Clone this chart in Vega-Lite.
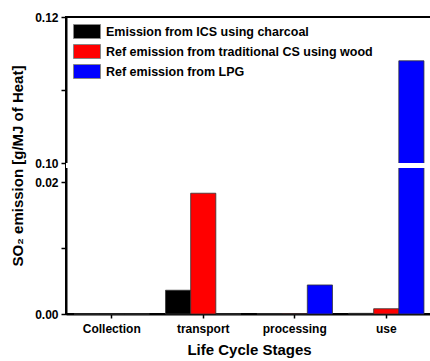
{
  "$schema": "https://vega.github.io/schema/vega-lite/v6.json",
  "width": 366,
  "height": 297,
  "autosize": {"type": "none"},
  "padding": {"left": 66, "top": 17, "right": 0, "bottom": 47},
  "background": "white",
  "config": {
    "font": "Liberation Sans",
    "view": {"stroke": "black", "strokeWidth": 2},
    "axis": {"labelFont": "Liberation Sans", "titleFont": "Liberation Sans", "labelFontWeight": "bold", "titleFontWeight": "bold", "labelColor": "black", "titleColor": "black", "domainColor": "black", "tickColor": "black", "domainWidth": 2, "tickWidth": 1.5, "grid": false}
  },
  "data": {
    "values": [
      {"stage": "Collection", "series": "Emission from ICS using charcoal", "value": 0},
      {"stage": "Collection", "series": "Ref emission from traditional CS using wood", "value": 0},
      {"stage": "Collection", "series": "Ref emission from LPG", "value": 0},
      {"stage": "transport", "series": "Emission from ICS using charcoal", "value": 0.0036},
      {"stage": "transport", "series": "Ref emission from traditional CS using wood", "value": 0.0183},
      {"stage": "transport", "series": "Ref emission from LPG", "value": 0},
      {"stage": "processing", "series": "Emission from ICS using charcoal", "value": 0.00005},
      {"stage": "processing", "series": "Ref emission from traditional CS using wood", "value": 0.00005},
      {"stage": "processing", "series": "Ref emission from LPG", "value": 0.0044},
      {"stage": "use", "series": "Emission from ICS using charcoal", "value": 0.0001},
      {"stage": "use", "series": "Ref emission from traditional CS using wood", "value": 0.0008},
      {"stage": "use", "series": "Ref emission from LPG", "value": 0.114}
    ]
  },
  "layer": [
    {
      "mark": {"type": "bar", "stroke": "#333333", "strokeWidth": 0.8},
      "encoding": {
        "x": {
          "field": "stage", "type": "nominal", "sort": ["Collection", "transport", "processing", "use"],
          "scale": {"paddingInner": 0, "paddingOuter": 0},
          "axis": {"title": "Life Cycle Stages", "labelAngle": 0, "labelFontSize": 12, "titleFontSize": 15, "labelPadding": 5, "titlePadding": 8, "tickSize": 4}
        },
        "xOffset": {
          "field": "series", "type": "nominal",
          "sort": ["Emission from ICS using charcoal", "Ref emission from traditional CS using wood", "Ref emission from LPG"],
          "scale": {"paddingInner": 0, "paddingOuter": 0.32}
        },
        "y": {
          "field": "value", "type": "quantitative",
          "scale": {"domain": [0, 0.02, 0.10, 0.12], "range": [297, 165, 146, 0], "nice": false, "zero": false, "clamp": true},
          "axis": {"title": "SO₂ emission [g/MJ of Heat]", "values": [0, 0.01, 0.02, 0.10, 0.11, 0.12], "labelExpr": "datum.value == 0.01 || datum.value == 0.11 ? '' : format(datum.value, '.2f')", "labelFontSize": 12, "titleFontSize": 15, "tickSize": 5, "labelPadding": 3, "titlePadding": 9}
        },
        "color": {
          "field": "series", "type": "nominal",
          "sort": ["Emission from ICS using charcoal", "Ref emission from traditional CS using wood", "Ref emission from LPG"],
          "scale": {"range": ["#000000", "#ff0000", "#0000ff"]},
          "legend": {
            "title": null, "orient": "none", "legendX": 13.5, "legendY": 7,
            "symbolType": "M-1.93,-1H1.93V1H-1.93Z", "symbolSize": 196, "symbolStrokeColor": "#888888", "symbolStrokeWidth": 1, "symbolOpacity": 1,
            "labelFont": "Liberation Sans", "labelFontWeight": "bold", "labelFontSize": 12.5, "labelColor": "black", "labelLimit": 400, "rowPadding": 1, "labelOffset": 11.5, "padding": 0
          }
        }
      }
    },
    {
      "mark": {"type": "rect", "color": "white"},
      "encoding": {
        "y": {"datum": 0.10, "type": "quantitative"},
        "y2": {"datum": 0.079}
      }
    }
  ]
}
